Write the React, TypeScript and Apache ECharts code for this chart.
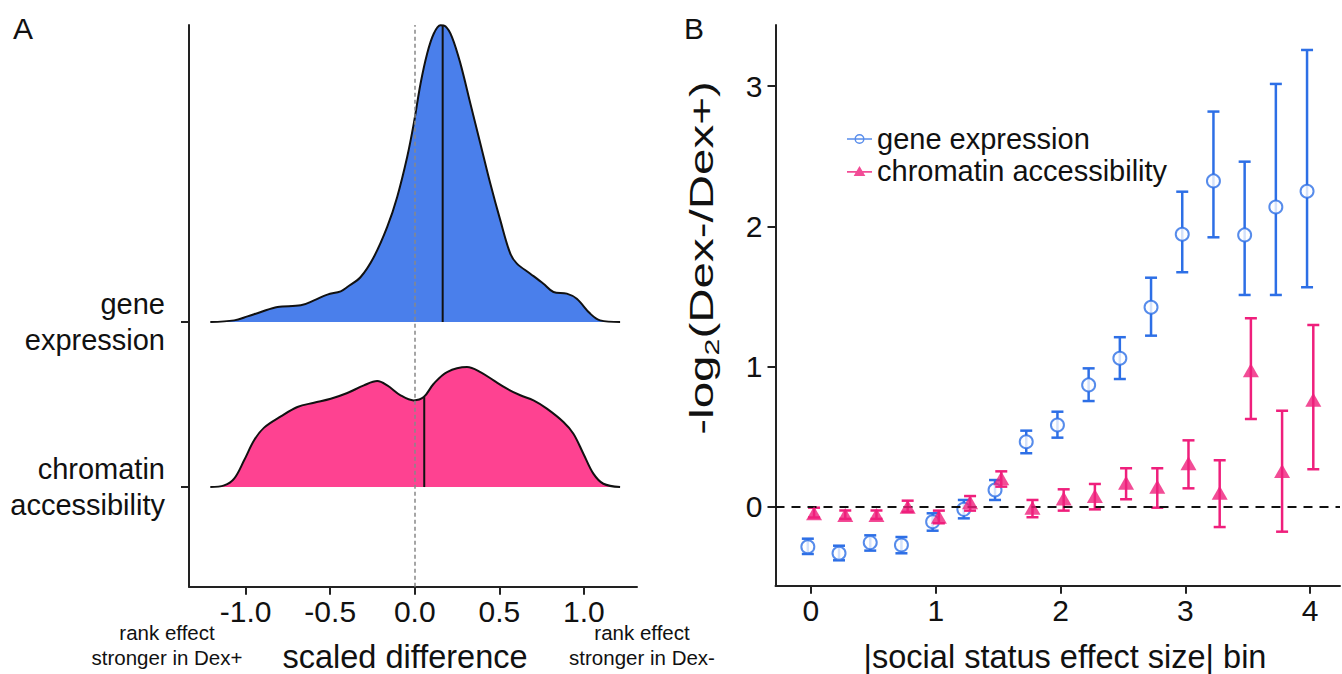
import React, { useEffect, useRef } from "react";
import * as echarts from "echarts";

// ---------- Panel A data (scaled density heights, 1 unit = ridge spacing) ----------
const geneX = [-1.209, -1.068, -0.989, -0.91, -0.812, -0.674, -0.596, -0.517, -0.438, -0.399, -0.32, -0.242, -0.163, -0.104, -0.045, -0.006, 0.034, 0.073, 0.112, 0.152, 0.181, 0.22, 0.27, 0.329, 0.388, 0.447, 0.506, 0.565, 0.604, 0.683, 0.761, 0.82, 0.899, 0.958, 1.037, 1.096, 1.214];
const geneDensity = [0, 0.01, 0.034, 0.061, 0.091, 0.101, 0.131, 0.166, 0.186, 0.212, 0.273, 0.394, 0.576, 0.758, 1.0, 1.202, 1.444, 1.626, 1.747, 1.798, 1.792, 1.727, 1.566, 1.323, 1.081, 0.838, 0.616, 0.414, 0.354, 0.293, 0.232, 0.182, 0.172, 0.141, 0.051, 0.01, 0];
const chromX = [-1.209, -1.127, -1.068, -1.009, -0.95, -0.891, -0.792, -0.694, -0.596, -0.497, -0.399, -0.301, -0.222, -0.163, -0.084, -0.006, 0.053, 0.112, 0.191, 0.309, 0.388, 0.466, 0.545, 0.624, 0.702, 0.781, 0.879, 0.938, 0.997, 1.056, 1.115, 1.214];
const chromDensity = [0, 0.01, 0.051, 0.162, 0.283, 0.36, 0.428, 0.485, 0.511, 0.535, 0.57, 0.616, 0.642, 0.616, 0.556, 0.525, 0.545, 0.626, 0.697, 0.727, 0.697, 0.646, 0.596, 0.556, 0.525, 0.475, 0.394, 0.323, 0.202, 0.081, 0.02, 0];
const ridgeLabels = ["chromatin\naccessibility", "gene\nexpression"];
const ridgeLevels = [0, 1];
const geneMeanX = 0.165;
const geneMeanHeight = 1.795;
const chromMeanX = 0.056;
const chromMeanHeight = 0.545;
const scaledTicks = [-1, -0.5, 0, 0.5, 1];

// ---------- Panel B data ----------
const binCenters = [0, 0.25, 0.5, 0.75, 1, 1.25, 1.5, 1.75, 2, 2.25, 2.5, 2.75, 3, 3.25, 3.5, 3.75, 4];
const binTicks = [0, 1, 2, 3, 4];
const logTicks = [0, 1, 2, 3];
const geneMean = [-0.283, -0.33, -0.254, -0.271, -0.105, -0.017, 0.121, 0.465, 0.584, 0.87, 1.06, 1.423, 1.944, 2.324, 1.939, 2.138, 2.25];
const geneLow = [-0.335, -0.38, -0.311, -0.33, -0.169, -0.081, 0.05, 0.383, 0.494, 0.755, 0.912, 1.221, 1.673, 1.922, 1.511, 1.511, 1.566];
const geneHigh = [-0.226, -0.276, -0.202, -0.214, -0.045, 0.05, 0.192, 0.544, 0.679, 0.988, 1.21, 1.634, 2.247, 2.818, 2.461, 3.015, 3.257];
const chromMean = [-0.045, -0.057, -0.057, 0.002, -0.069, 0.033, 0.204, -0.005, 0.06, 0.078, 0.173, 0.145, 0.311, 0.102, 0.974, 0.256, 0.765];
const chromLow = [-0.075, -0.085, -0.085, -0.035, -0.116, -0.026, 0.145, -0.073, -0.026, -0.017, 0.055, -0.005, 0.133, -0.143, 0.627, -0.176, 0.269];
const chromHigh = [-0.005, -0.025, -0.025, 0.045, -0.026, 0.078, 0.254, 0.05, 0.126, 0.164, 0.276, 0.276, 0.475, 0.333, 1.345, 0.686, 1.297];

const FONT = "'Liberation Sans', Arial, Helvetica, sans-serif";
const BLUE_FILL = "#4a7feb";
const PINK_FILL = "#fe4291";
const BLUE = "#2d6fe6";
const PINK = "#ef1f7c";
const AXIS = "#222";
const DODGE = 0.025;

const geneIcon =
  "path://M0,9L30,9L30,11L0,11Z M21,10A6,6,0,1,1,9,10A6,6,0,1,1,21,10Z M19.3,10A4.3,4.3,0,1,0,10.7,10A4.3,4.3,0,1,0,19.3,10Z";
const chromIcon = "path://M0,9L30,9L30,11L0,11Z M15,3L22,15L8,15Z";

function errorBarSeries(name: string, data: number[][], color: string, extra: any = {}) {
  return {
    type: "custom",
    name,
    xAxisIndex: 1,
    yAxisIndex: 1,
    data,
    encode: { x: 0, y: [1, 2] },
    renderItem: (params: any, api: any) => {
      const x = api.value(0);
      const p1 = api.coord([x, api.value(1)]);
      const p2 = api.coord([x, api.value(2)]);
      const w = 6;
      const style = { stroke: color, lineWidth: 2.5 };
      return {
        type: "group",
        children: [
          { type: "line", shape: { x1: p1[0], y1: p1[1], x2: p2[0], y2: p2[1] }, style },
          { type: "line", shape: { x1: p1[0] - w, y1: p1[1], x2: p1[0] + w, y2: p1[1] }, style },
          { type: "line", shape: { x1: p2[0] - w, y1: p2[1], x2: p2[0] + w, y2: p2[1] }, style },
        ],
      };
    },
    ...extra,
  };
}

export default function App() {
  const ref = useRef<HTMLDivElement>(null);
  useEffect(() => {
    if (!ref.current) return;
    const chart = echarts.init(ref.current, null, { renderer: "svg" });
    const axisLine = { show: true, onZero: false, lineStyle: { color: AXIS, width: 2 } };
    const axisTick = { show: true, length: 8, lineStyle: { color: AXIS, width: 2 } };
    const tickLabel = { color: "#111", fontSize: 30, fontFamily: FONT };

    const option: any = {
      animation: false,
      backgroundColor: "#fff",
      textStyle: { fontFamily: FONT },
      grid: [
        { left: 189, top: 25, width: 448, height: 561.7 },
        { left: 775.5, top: 25, width: 564.5, height: 560.7 },
      ],
      xAxis: [
        {
          type: "value",
          gridIndex: 0,
          min: -1.335,
          max: 1.314,
          axisLine,
          axisTick: { ...axisTick, customValues: scaledTicks },
          axisLabel: { ...tickLabel, margin: 10, customValues: scaledTicks, formatter: (v: number) => v.toFixed(1) },
          splitLine: { show: false },
        },
        {
          type: "value",
          gridIndex: 1,
          min: -0.284,
          max: 4.239,
          axisLine,
          axisTick: { ...axisTick, customValues: binTicks },
          axisLabel: { ...tickLabel, margin: 10, customValues: binTicks, formatter: (v: number) => String(v) },
          splitLine: { show: false },
        },
      ],
      yAxis: [
        {
          type: "value",
          gridIndex: 0,
          min: -0.604,
          max: 2.8,
          axisLine,
          axisTick: { ...axisTick, customValues: ridgeLevels },
          axisLabel: {
            color: "#111",
            fontSize: 29,
            fontFamily: FONT,
            lineHeight: 36,
            margin: 24,
            align: "right",
            padding: [0, 0, 10, 0],
            customValues: ridgeLevels,
            formatter: (v: number) => ridgeLabels[ridgeLevels.indexOf(Math.round(v))] || "",
          },
          splitLine: { show: false },
        },
        {
          type: "value",
          gridIndex: 1,
          min: -0.561,
          max: 3.435,
          axisLine,
          axisTick: { ...axisTick, customValues: logTicks },
          axisLabel: { ...tickLabel, margin: 13, customValues: logTicks, formatter: (v: number) => String(v) },
          splitLine: { show: false },
        },
      ],
      legend: {
        orient: "vertical",
        left: 842,
        top: 119,
        itemWidth: 25,
        itemHeight: 10,
        itemGap: 2,
        textStyle: { fontSize: 29, lineHeight: 30, color: "#111", fontFamily: FONT },
        data: [
          { name: "gene expression", icon: geneIcon, itemStyle: { color: BLUE, borderWidth: 0 } },
          { name: "chromatin accessibility", icon: chromIcon, itemStyle: { color: PINK, borderWidth: 0 } },
        ],
      },
      series: [
        {
          type: "line",
          name: "A-gene",
          xAxisIndex: 0,
          yAxisIndex: 0,
          data: geneX.map((x, i) => [x, ridgeLevels[1] + geneDensity[i]]),
          smooth: 0.35,
          symbol: "none",
          lineStyle: { color: "#111", width: 2 },
          areaStyle: { color: BLUE_FILL, opacity: 1, origin: ridgeLevels[1] },
          z: 2,
        },
        {
          type: "line",
          name: "A-chrom",
          xAxisIndex: 0,
          yAxisIndex: 0,
          data: chromX.map((x, i) => [x, ridgeLevels[0] + chromDensity[i]]),
          smooth: 0.35,
          symbol: "none",
          lineStyle: { color: "#111", width: 2 },
          areaStyle: { color: PINK_FILL, opacity: 1, origin: ridgeLevels[0] },
          z: 2,
        },
        {
          type: "line",
          name: "A-gene-mean",
          xAxisIndex: 0,
          yAxisIndex: 0,
          data: [
            [geneMeanX, ridgeLevels[1]],
            [geneMeanX, ridgeLevels[1] + geneMeanHeight],
          ],
          symbol: "none",
          lineStyle: { color: "#111", width: 2 },
          z: 3,
        },
        {
          type: "line",
          name: "A-chrom-mean",
          xAxisIndex: 0,
          yAxisIndex: 0,
          data: [
            [chromMeanX, ridgeLevels[0]],
            [chromMeanX, ridgeLevels[0] + chromMeanHeight],
          ],
          symbol: "none",
          lineStyle: { color: "#111", width: 2 },
          z: 3,
          markLine: {
            silent: true,
            symbol: "none",
            label: { show: false },
            lineStyle: { color: "#888", width: 1.5, type: [4, 3] },
            data: [{ xAxis: 0 }],
          },
        },
        errorBarSeries(
          "gene-err",
          binCenters.map((b, i) => [b - DODGE, geneLow[i], geneHigh[i]]),
          BLUE,
          {
            z: 2,
            markLine: {
              silent: true,
              symbol: "none",
              label: { show: false },
              lineStyle: { color: "#111", width: 2, type: [9, 7] },
              data: [{ yAxis: 0 }],
            },
          }
        ),
        {
          type: "scatter",
          name: "gene expression",
          xAxisIndex: 1,
          yAxisIndex: 1,
          data: binCenters.map((b, i) => [b - DODGE, geneMean[i]]),
          symbol: "circle",
          symbolSize: 13,
          itemStyle: { color: "#fff", borderColor: BLUE, borderWidth: 2 },
          z: 3,
        },
        errorBarSeries(
          "chrom-err",
          binCenters.map((b, i) => [b + DODGE, chromLow[i], chromHigh[i]]),
          PINK,
          { z: 4 }
        ),
        {
          type: "scatter",
          name: "chromatin accessibility",
          xAxisIndex: 1,
          yAxisIndex: 1,
          data: binCenters.map((b, i) => [b + DODGE, chromMean[i]]),
          symbol: "triangle",
          symbolSize: [16, 14],
          itemStyle: { color: PINK },
          z: 5,
        },
      ],
      graphic: [
        { type: "text", x: 13, y: 28, style: { text: "A", fontSize: 30, fontFamily: FONT, fill: "#111", verticalAlign: "middle" } },
        { type: "text", x: 684, y: 28, style: { text: "B", fontSize: 30, fontFamily: FONT, fill: "#111", verticalAlign: "middle" } },
        {
          type: "text",
          x: 405,
          y: 657,
          style: { text: "scaled difference", fontSize: 32.5, fontFamily: FONT, fill: "#111", align: "center", verticalAlign: "middle" },
        },
        {
          type: "text",
          x: 1065,
          y: 657,
          style: { text: "|social status effect size| bin", fontSize: 32.5, fontFamily: FONT, fill: "#111", align: "center", verticalAlign: "middle" },
        },
        {
          type: "text",
          x: 167,
          y: 645,
          style: { text: "rank effect\nstronger in Dex+", fontSize: 20.5, lineHeight: 25, fontFamily: FONT, fill: "#111", align: "center", verticalAlign: "middle" },
        },
        {
          type: "text",
          x: 642,
          y: 645,
          style: { text: "rank effect\nstronger in Dex-", fontSize: 20.5, lineHeight: 25, fontFamily: FONT, fill: "#111", align: "center", verticalAlign: "middle" },
        },
        {
          type: "text",
          x: 702,
          y: 258,
          rotation: Math.PI / 2,
          scaleX: 1.44,
          style: {
            text: "{a|-log}{s|2}{a|(Dex-/Dex+)}",
            fill: "#111",
            fontFamily: FONT,
            fontSize: 33,
            align: "center",
            verticalAlign: "middle",
            rich: {
              a: { fontSize: 33, lineHeight: 40, fontFamily: FONT, fill: "#111", verticalAlign: "middle" },
              s: { fontSize: 21, lineHeight: 20, fontFamily: FONT, fill: "#111", verticalAlign: "bottom" },
            },
          },
        },
      ],
    };
    chart.setOption(option);
    return () => chart.dispose();
  }, []);
  return (
    <div
      ref={ref}
      style={{ position: "fixed", left: 0, top: 0, width: 1342, height: 674, background: "#fff" }}
    />
  );
}
